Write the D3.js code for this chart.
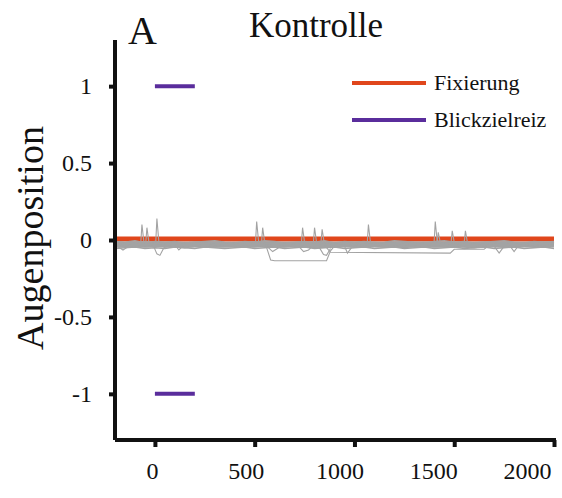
<!DOCTYPE html>
<html>
<head>
<meta charset="utf-8">
<script src="https://cdn.jsdelivr.net/npm/d3@7"></script>
<style>
  body { margin: 0; background: #fff; }
  svg text { font-family: 'Liberation Serif', 'Times New Roman', Tinos, Times, 'DejaVu Serif', serif !important; fill: #111; }
</style>
</head>
<body>
<div id="chart"></div>
<script>
var svgWidth = 562;
var svgHeight = 498;

var margin = { top: 40, right: 6, bottom: 58, left: 115 };
var width = svgWidth - margin.left - margin.right;
var height = svgHeight - margin.top - margin.bottom;

// data
var xTicks = [0, 500, 1000, 1500, 2000];
var yTicks = [1, 0.5, 0, -0.5, -1];
var xDomain = [-200, 2010];
var yDomain = [-1.3, 1.3];

var fixTimes = [-200, 2000];
var fixValue = 0.006;
var targetTimes = [0, 200];
var targetValues = [1, -1];

var tGrid = [-200,-150,-100,-50,0,50,100,150,200,250,300,350,400,450,500,550,600,650,700,750,800,850,900,950,1000,
  1050,1100,1150,1200,1250,1300,1350,1400,1450,1500,1550,1600,1650,1700,1750,1800,1850,1900,1950,2000];

var band = [-0.028,-0.031,-0.029,-0.028,-0.03,-0.029,-0.031,-0.03,-0.029,-0.028,-0.03,-0.031,-0.029,-0.03,-0.028,
  -0.029,-0.031,-0.03,-0.029,-0.028,-0.03,-0.031,-0.029,-0.03,-0.029,-0.028,-0.03,-0.031,-0.029,-0.03,
  -0.029,-0.028,-0.03,-0.031,-0.029,-0.03,-0.029,-0.028,-0.03,-0.031,-0.029,-0.03,-0.029,-0.028,-0.03];
var trace1 = [-0.02,-0.03,-0.02,-0.015,-0.02,-0.03,-0.02,-0.02,-0.015,-0.02,-0.03,-0.02,-0.02,-0.03,-0.015,
  -0.02,-0.02,-0.03,-0.02,-0.015,-0.02,-0.03,-0.02,-0.02,-0.03,-0.02,-0.015,-0.02,-0.02,-0.03,
  -0.02,-0.02,-0.015,-0.02,-0.03,-0.02,-0.02,-0.03,-0.02,-0.015,-0.02,-0.02,-0.03,-0.02,-0.02];
var trace2 = [-0.045,-0.04,-0.035,-0.045,-0.04,-0.035,-0.045,-0.05,-0.04,-0.035,-0.045,-0.04,-0.035,-0.04,-0.045,
  -0.035,-0.04,-0.045,-0.035,-0.04,-0.05,-0.045,-0.04,-0.035,-0.045,-0.04,-0.035,-0.045,-0.04,-0.05,
  -0.04,-0.035,-0.045,-0.04,-0.035,-0.045,-0.05,-0.04,-0.035,-0.045,-0.04,-0.035,-0.045,-0.04,-0.035];
var trace3 = [-0.01,-0.015,-0.005,-0.02,-0.01,-0.015,-0.01,-0.02,-0.015,-0.01,-0.005,-0.015,-0.02,-0.01,-0.015,
  -0.005,-0.01,-0.02,-0.015,-0.01,-0.015,-0.005,-0.02,-0.01,-0.015,-0.01,-0.02,-0.015,-0.005,-0.01,
  -0.015,-0.02,-0.01,-0.005,-0.015,-0.01,-0.02,-0.015,-0.01,-0.005,-0.015,-0.02,-0.01,-0.015,-0.01];
var trace4 = [-0.055,-0.05,-0.045,-0.055,-0.05,-0.055,-0.045,-0.05,-0.055,-0.045,-0.05,-0.055,-0.05,-0.045,-0.055,
  -0.05,-0.045,-0.055,-0.05,-0.045,-0.055,-0.05,-0.045,-0.055,-0.05,-0.045,-0.055,-0.05,-0.045,-0.055,
  -0.05,-0.045,-0.055,-0.05,-0.045,-0.055,-0.05,-0.045,-0.055,-0.05,-0.045,-0.055,-0.05,-0.045,-0.055];
var grid = [band, trace1, trace2, trace3, trace4];

// excursions [time, value]
var lowA = [[555,-0.03],[580,-0.13],[600,-0.135],[860,-0.135],[880,-0.07],[900,-0.04]];
var lowB = [[860,-0.05],[880,-0.08],[1480,-0.085],[1500,-0.06],[1650,-0.06],[1670,-0.04]];
var dips = [
  [[-190,-0.04],[-160,-0.065],[-130,-0.04]],
  [[-10,-0.03],[10,-0.09],[25,-0.1],[45,-0.05],[70,-0.04]],
  [[100,-0.03],[120,-0.065],[140,-0.04]],
  [[560,-0.04],[590,-0.075],[620,-0.05]],
  [[720,-0.04],[745,-0.075],[770,-0.065],[790,-0.04]],
  [[820,-0.04],[845,-0.095],[860,-0.1],[880,-0.055]],
  [[950,-0.04],[965,-0.085],[985,-0.05]],
  [[1700,-0.04],[1725,-0.085],[1745,-0.05]],
  [[1780,-0.04],[1800,-0.075],[1820,-0.04]]
];
var spikes = [[-65,0.1],[-40,0.08],[10,0.14],[510,0.12],[540,0.08],[740,0.08],[800,0.08],[838,0.07],
  [1070,0.1],[1405,0.12],[1420,0.05],[1490,0.06],[1556,0.06]];

var legendNames = ["Fixierung", "Blickzielreiz"];
var legendColors = ["#e0461c", "#5a2d9c"];

var serif = "'Liberation Serif', 'Times New Roman', Tinos, Times, 'DejaVu Serif', serif";

var svg = d3.select("#chart").append("svg")
  .attr("width", svgWidth)
  .attr("height", svgHeight);

var chartGroup = svg.append("g")
  .attr("transform", `translate(${margin.left}, ${margin.top})`);

var x = d3.scaleLinear().domain(xDomain).range([0, width]);
var y = d3.scaleLinear().domain(yDomain).range([height, 0]);

var line = d3.line().x(d => x(d[0])).y(d => y(d[1]));

// fixation line
chartGroup.append("path")
  .datum(fixTimes.map(t => [t, fixValue]))
  .attr("d", line)
  .attr("fill", "none")
  .attr("stroke", legendColors[0])
  .attr("stroke-width", 5);

// target bars
targetValues.forEach(function(v) {
  chartGroup.append("path")
    .datum(targetTimes.map(t => [t, v]))
    .attr("d", line)
    .attr("fill", "none")
    .attr("stroke", legendColors[1])
    .attr("stroke-width", 4);
});

var gray = "#a3a3a3";
var traceGroup = chartGroup.append("g").attr("fill", "none").attr("stroke", gray);

grid.forEach(function(vals, i) {
  traceGroup.append("path")
    .datum(tGrid.map((t, j) => [t, vals[j]]))
    .attr("d", line)
    .attr("stroke-width", i === 0 ? 6 : 1.6);
});

[lowA, lowB].concat(dips).forEach(function(pts) {
  traceGroup.append("path")
    .datum(pts)
    .attr("d", line)
    .attr("stroke-width", 1.1);
});

spikes.forEach(function(s) {
  traceGroup.append("path")
    .datum([[s[0] - 6, -0.02], [s[0], s[1]], [s[0] + 10, -0.015]])
    .attr("d", line)
    .attr("stroke-width", 1.1);
});

// axes
var fmt = d => String(d);
var yAxis = chartGroup.append("g")
  .call(d3.axisLeft(y).tickValues(yTicks).tickFormat(fmt).tickSize(6).tickPadding(17));
var xAxis = chartGroup.append("g")
  .attr("transform", `translate(0, ${height})`)
  .call(d3.axisBottom(x).tickValues(xTicks).tickFormat(fmt).tickSize(7).tickPadding(15));

[yAxis, xAxis].forEach(function(ax) {
  ax.attr("font-family", serif);
  ax.select(".domain").attr("stroke", "#111").attr("stroke-width", 4);
  ax.selectAll(".tick line").attr("stroke", "#111").attr("stroke-width", 4);
  ax.selectAll(".tick text").attr("font-size", 24).attr("fill", "#111");
});
yAxis.select(".domain").attr("d", `M0,0V${height}`);
xAxis.select(".domain").attr("d", `M0,0H${width}`);
// labels in the picture drift left of their ticks
xAxis.selectAll(".tick text").attr("dx", d => -3 - d * 0.012);

// titles
svg.append("text").attr("x", 128).attr("y", 44).attr("font-size", 40).text("A");
svg.append("text").attr("x", 316).attr("y", 37).attr("font-size", 35)
  .attr("text-anchor", "middle").text("Kontrolle");
svg.append("text")
  .attr("transform", "translate(43, 238) rotate(-90)")
  .attr("text-anchor", "middle")
  .attr("font-size", 38)
  .text("Augenposition");

// legend
var legend = svg.append("g");
legendNames.forEach(function(name, i) {
  var ly = 83 + i * 37;
  legend.append("line")
    .attr("x1", 352).attr("x2", 426).attr("y1", ly).attr("y2", ly)
    .attr("stroke", legendColors[i]).attr("stroke-width", 4);
  legend.append("text")
    .attr("x", 434).attr("y", ly + 7)
    .attr("font-size", 22)
    .text(name);
});

svg.selectAll("text").style("font-family", serif);
</script>
</body>
</html>
